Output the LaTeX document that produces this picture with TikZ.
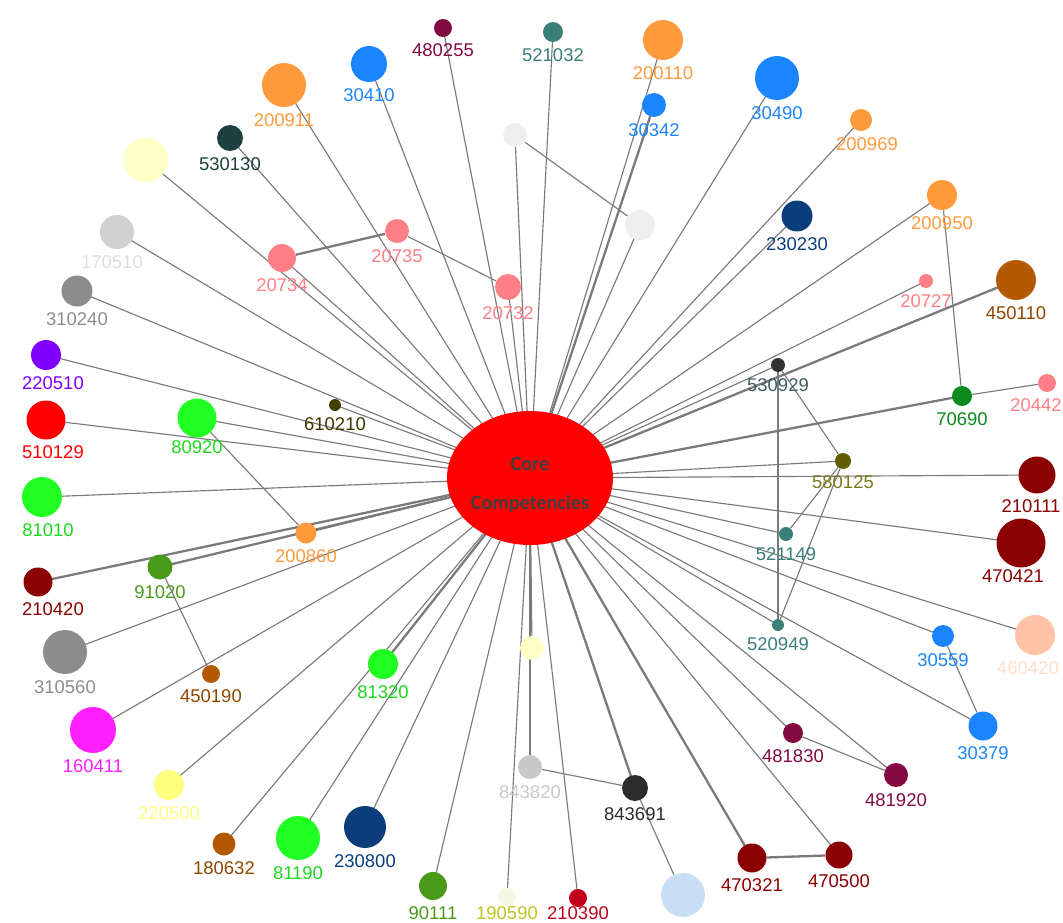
\documentclass[tikz,border=0pt]{standalone}
\usepackage{fontspec}
\setmainfont{Liberation Sans}
\newfontfamily\corefont[BoldFont={Carlito Bold}]{Carlito}
\usetikzlibrary{shapes.geometric,backgrounds}
\definecolor{linkGray}{HTML}{7A7A7A}
\definecolor{cRed}{HTML}{FF0000}
\definecolor{cOrange}{HTML}{FF9A3C}
\definecolor{cBlue}{HTML}{1A85FF}
\definecolor{cPink}{HTML}{FF7F86}
\definecolor{cDkRed}{HTML}{8B0000}
\definecolor{cCrimson}{HTML}{C0001A}
\definecolor{cMaroon}{HTML}{820A40}
\definecolor{cTeal}{HTML}{3A7F78}
\definecolor{cNavy}{HTML}{0B3D7A}
\definecolor{cBrown}{HTML}{B35900}
\definecolor{cLime}{HTML}{22FF22}
\definecolor{cGreen}{HTML}{0B8A1E}
\definecolor{cLeaf}{HTML}{4A9A1A}
\definecolor{cGrey}{HTML}{8C8C8C}
\definecolor{cMagenta}{HTML}{FF1FFF}
\definecolor{cPurple}{HTML}{8000FF}
\definecolor{cOlive}{HTML}{5E5E00}
\definecolor{cOliveTxt}{HTML}{7A7A1A}
\definecolor{cSlate}{HTML}{1E4040}
\definecolor{cInk}{HTML}{2B2B2B}
\definecolor{cYelGreen}{HTML}{B8C820}
\definecolor{cPale}{HTML}{C8C8C8}
\definecolor{cCream}{HTML}{FFFFC8}
\definecolor{cLemon}{HTML}{FFFF80}
\definecolor{cPeach}{HTML}{FFC4A8}
\definecolor{cSky}{HTML}{C8DEF5}
\definecolor{cGhost}{HTML}{EEEEEE}

\tikzset{
  dot/.style={circle,inner sep=0pt,minimum size=#1},
  every label/.style={font=\fontsize{10.5}{12}\selectfont},
  link/.style={draw=linkGray,line width=0.65pt},
  heavy/.style={draw=linkGray,line width=1.3pt},
}

\begin{document}
\begin{tikzpicture}[x=0.02cm,y=-0.02cm]
\path[use as bounding box] (0,0) rectangle (1063,923);

% hub
\node[ellipse,fill=cRed,minimum width=3.32cm,minimum height=2.68cm,inner sep=0pt,
  label={[yshift=-0.14cm,align=center,text=black!75,font=\corefont\bfseries\fontsize{11.5}{22.7}\selectfont]center:Core\\Competencies}]
  (core) at (530,478) {};

% top arc
\node[dot=0.36cm,fill=cMaroon,label={[text=cMaroon]below:480255}] (n480255) at (443,28) {};
\node[dot=0.40cm,fill=cTeal,label={[text=cTeal]below:521032}] (n521032) at (553,32) {};
\node[dot=0.80cm,fill=cOrange,label={[text=cOrange]below:200110}] (n200110) at (663,40) {};
\node[dot=0.48cm,fill=cBlue,label={[text=cBlue]below:30342}] (n30342) at (654,105) {};
\node[dot=0.88cm,fill=cBlue,label={[text=cBlue]below:30490}] (n30490) at (777,78) {};
\node[dot=0.44cm,fill=cOrange,label={[text=cOrange,xshift=0.12cm]below:200969}] (n200969) at (861,120) {};
\node[dot=0.60cm,fill=cOrange,label={[text=cOrange]below:200950}] (n200950) at (942,195) {};
\node[dot=0.62cm,fill=cNavy,label={[text=cNavy]below:230230}] (n230230) at (797,216) {};
\node[dot=0.80cm,fill=cBrown,label={[text=cBrown!80!black]below:450110}] (n450110) at (1016,280) {};
\node[dot=0.28cm,fill=cPink,label={[text=cPink]below:20727}] (n20727) at (926,281) {};
\node[dot=0.88cm,fill=cOrange,label={[text=cOrange]below:200911}] (n200911) at (284,85) {};
\node[dot=0.72cm,fill=cBlue,label={[text=cBlue]below:30410}] (n30410) at (369,64) {};
\node[dot=0.52cm,fill=cSlate,label={[text=cSlate]below:530130}] (n530130) at (230,138) {};
\node[dot=0.88cm,fill=cCream] (cream) at (146,160) {};
\node[dot=0.48cm,fill=cGhost] (ghostA) at (515,135) {};
\node[dot=0.60cm,fill=cGhost] (ghostB) at (640,225) {};

% pink cluster
\node[dot=0.56cm,fill=cPink,label={[text=cPink]below:20734}] (n20734) at (282,258) {};
\node[dot=0.48cm,fill=cPink,label={[text=cPink]below:20735}] (n20735) at (397,231) {};
\node[dot=0.52cm,fill=cPink,label={[text=cPink]below:20732}] (n20732) at (508,287) {};

% right side
\node[dot=0.40cm,fill=cGreen,label={[text=cGreen]below:70690}] (n70690) at (962,396) {};
\node[dot=0.36cm,fill=cPink,label={[text=cPink,xshift=-0.22cm]below:20442}] (n20442) at (1047,383) {};
\node[dot=0.28cm,fill=black!80,label={[text=cSlate!85]below:530929}] (n530929) at (778,365) {};
\node[dot=0.32cm,fill=cOlive,label={[text=cOliveTxt]below:580125}] (n580125) at (843,461) {};
\node[dot=0.74cm,fill=cDkRed,label={[text=cDkRed,xshift=-0.12cm]below:210111}] (n210111) at (1037,475) {};
\node[dot=0.98cm,fill=cDkRed,label={[text=cDkRed,xshift=-0.16cm,yshift=0.08cm]below:470421}] (n470421) at (1021,543) {};
\node[dot=0.28cm,fill=cTeal,label={[text=cTeal]below:521149}] (n521149) at (786,534) {};
\node[dot=0.24cm,fill=cTeal,label={[text=cTeal]below:520949}] (n520949) at (778,625) {};
\node[dot=0.80cm,fill=cPeach,label={[text=cPeach!55,xshift=-0.14cm]below:460420}] (peach) at (1035,635) {};
\node[dot=0.44cm,fill=cBlue,label={[text=cBlue]below:30559}] (n30559) at (943,636) {};
\node[dot=0.58cm,fill=cBlue,label={[text=cBlue]below:30379}] (n30379) at (983,726) {};

% bottom arc
\node[dot=0.40cm,fill=cMaroon,label={[text=cMaroon]below:481830}] (n481830) at (793,733) {};
\node[dot=0.48cm,fill=cMaroon,label={[text=cMaroon]below:481920}] (n481920) at (896,775) {};
\node[dot=0.58cm,fill=cDkRed,label={[text=cDkRed]below:470321}] (n470321) at (752,858) {};
\node[dot=0.54cm,fill=cDkRed,label={[text=cDkRed]below:470500}] (n470500) at (839,855) {};
\node[dot=0.52cm,fill=cInk,label={[text=cInk]below:843691}] (n843691) at (635,788) {};
\node[dot=0.48cm,fill=cPale,label={[text=cPale]below:843820}] (n843820) at (530,767) {};
\node[dot=0.88cm,fill=cSky] (sky) at (683,895) {};
\node[dot=0.48cm,fill=cCream] (lemonA) at (532,648) {};
\node[dot=0.36cm,fill=cCrimson,label={[text=cCrimson,yshift=0.14cm]below:210390}] (n210390) at (578,898) {};
\node[dot=0.36cm,fill=cYelGreen!12,label={[text=cYelGreen,yshift=0.12cm]below:190590}] (n190590) at (507,897) {};
\node[dot=0.56cm,fill=cLeaf,label={[text=cLeaf]below:90111}] (n90111) at (433,886) {};
\node[dot=0.84cm,fill=cNavy,label={[text=cNavy]below:230800}] (n230800) at (365,827) {};
\node[dot=0.88cm,fill=cLime,label={[text=cLime!85!black]below:81190}] (n81190) at (298,838) {};
\node[dot=0.46cm,fill=cBrown,label={[text=cBrown!80!black]below:180632}] (n180632) at (224,844) {};
\node[dot=0.60cm,fill=cLemon,label={[text=cLemon]below:220500}] (n220500) at (169,785) {};

% left side
\node[dot=0.92cm,fill=cMagenta,label={[text=cMagenta]below:160411}] (n160411) at (93,730) {};
\node[dot=0.60cm,fill=cLime,label={[text=cLime!85!black]below:81320}] (n81320) at (383,664) {};
\node[dot=0.36cm,fill=cBrown,label={[text=cBrown!80!black]below:450190}] (n450190) at (211,674) {};
\node[dot=0.88cm,fill=cGrey,label={[text=cGrey]below:310560}] (n310560) at (65,652) {};
\node[dot=0.58cm,fill=cDkRed,label={[text=cDkRed,xshift=0.30cm]below:210420}] (n210420) at (38,582) {};
\node[dot=0.50cm,fill=cLeaf,label={[text=cLeaf]below:91020}] (n91020) at (160,567) {};
\node[dot=0.42cm,fill=cOrange,label={[text=cOrange]below:200860}] (n200860) at (306,533) {};
\node[dot=0.80cm,fill=cLime,label={[text=cLime!85!black,xshift=0.12cm]below:81010}] (n81010) at (42,497) {};
\node[dot=0.78cm,fill=cLime,label={[text=cLime!85!black,yshift=0.06cm]below:80920}] (n80920) at (197,418) {};
\node[dot=0.78cm,fill=cRed,label={[text=cRed,xshift=0.14cm]below:510129}] (n510129) at (46,420) {};
\node[dot=0.60cm,fill=cPurple,label={[text=cPurple,xshift=0.14cm]below:220510}] (n220510) at (46,355) {};
\node[dot=0.24cm,fill=cOlive!70!black,label={[text=cOlive!60!black]below:610210}] (n610210) at (335,405) {};
\node[dot=0.62cm,fill=cGrey,label={[text=cGrey]below:310240}] (n310240) at (77,291) {};
\node[dot=0.68cm,fill=cPale!85,label={[text=cPale!60,xshift=-0.10cm]below:170510}] (n170510) at (117,232) {};

% links
\begin{pgfonlayer}{background}
\foreach \n in {n480255,n521032,n200110,n30490,n200969,n200950,n230230,n20727,
  n530929,n580125,n210111,n470421,n521149,n520949,peach,n30559,n30379,
  n481830,n481920,n470500,n843820,lemonA,n210390,n190590,n90111,n230800,
  n81190,n180632,n220500,n160411,n310560,n200860,n81010,n80920,n510129,
  n220510,n610210,n310240,n170510,cream,n530130,n200911,n30410,n20734,
  n20732,ghostA,ghostB}
  \draw[link] (core.center) -- (\n.center);
\foreach \n in {n30342,n450110,n70690,n470321,n843691,n81320,n210420,n91020}
  \draw[heavy] (core.center) -- (\n.center);
\draw[link] (n200950) -- (n70690);
\draw[link] (n20442) -- (n70690);
\draw[link] (n530929) -- (n580125);
\draw[link] (n530929) -- (n520949);
\draw[link] (n580125) -- (n521149);
\draw[link] (n580125) -- (n520949);
\draw[link] (n30559) -- (n30379);
\draw[link] (n481830) -- (n481920);
\draw[heavy] (n470321) -- (n470500);
\draw[link] (n843691) -- (n843820);
\draw[link] (n843691) -- (sky);
\draw[link] (n80920) -- (n200860);
\draw[link] (n91020) -- (n450190);
\draw[heavy] (n20734) -- (n20735);
\draw[link] (n20735) -- (n20732);
\draw[link] (ghostA) -- (ghostB);
\end{pgfonlayer}
\end{tikzpicture}
\end{document}
